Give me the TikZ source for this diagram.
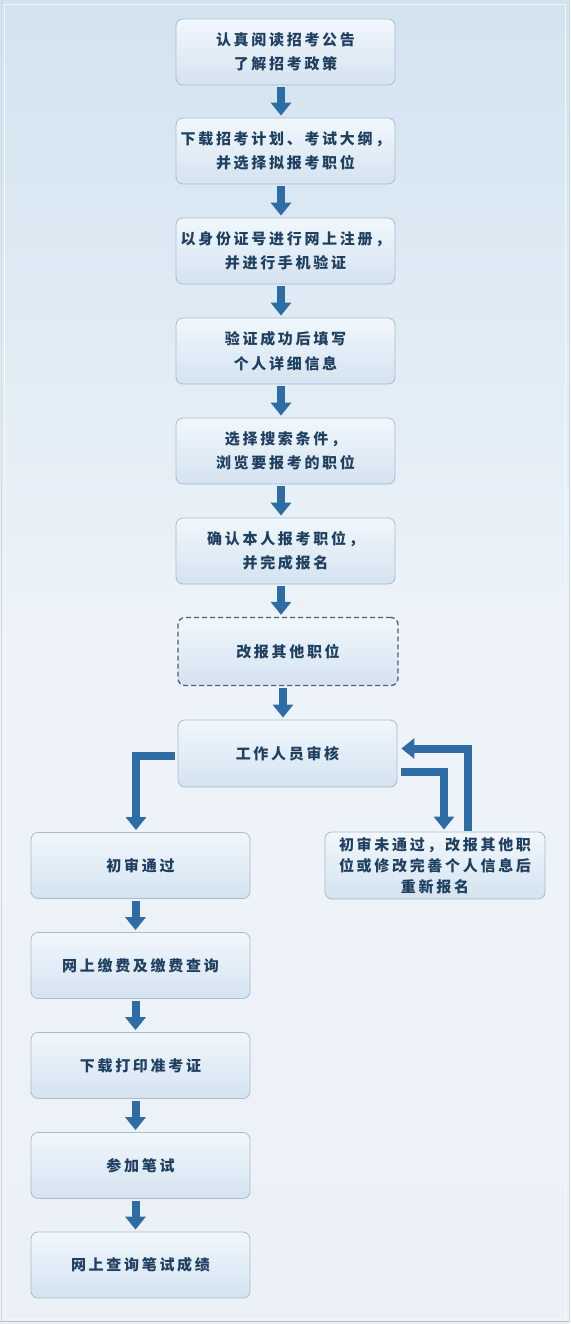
\documentclass[tikz,border=0pt]{standalone}
\usepackage{fontspec}
\newfontfamily\cjk{Noto Sans CJK SC}[LetterSpace=18]
\usetikzlibrary{arrows.meta,shadings}
\definecolor{txt}{HTML}{1F4060}
\definecolor{arr}{HTML}{2D6CA5}
\definecolor{bdr}{HTML}{A9BCCB}
\definecolor{HTML-top}{HTML}{F1F7FC}
\definecolor{HTML-bot}{HTML}{D4E3F0}
\definecolor{HTML-dash}{HTML}{4D6272}
\definecolor{bgtop}{HTML}{D2E3F0}
\definecolor{bgbot}{HTML}{ECF1F7}
\begin{document}
\begin{tikzpicture}[x=1pt,y=-1pt,
  box/.style={rounded corners=7pt, draw=bdr, line width=0.8pt,
    top color=HTML-top, bottom color=HTML-bot,
    minimum width=219pt, minimum height=66pt, inner sep=0pt,
    align=center, text=txt, font=\cjk\bfseries\fontsize{15}{24.5}\selectfont},
  dbox/.style={box, draw=HTML-dash, dash pattern=on 5pt off 3pt, line width=1.3pt},
  blk/.style={draw=arr, line width=8pt, line cap=butt, line join=miter,
    -{Triangle[width=20pt,length=13pt]}, shorten <=2pt, shorten >=2pt}
]
\useasboundingbox (0,0) rectangle (570,1324);
\shade[top color=bgtop, bottom color=bgbot, middle color=HTML-top!40!bgbot] (0,0) rectangle (570,1324);
\draw[white!70!bgtop, line width=1.2pt] (4.5,4.5) rectangle (565.5,1319.5);
\draw[HTML-dash!40!white, line width=1pt] (0,1321.5) -- (570,1321.5);
\draw[HTML-dash!25!white, line width=0.8pt] (1,0) -- (1,1322) (569,0) -- (569,1322);

\node[box] (b1) at (285.5,52) {认真阅读招考公告\\了解招考政策};
\node[box] (b2) at (285.5,151) {下载招考计划、考试大纲，\\并选择拟报考职位};
\node[box] (b3) at (285.5,251) {以身份证号进行网上注册，\\并进行手机验证};
\node[box] (b4) at (285.5,351) {验证成功后填写\\个人详细信息};
\node[box] (b5) at (285.5,451) {选择搜索条件，\\浏览要报考的职位};
\node[box] (b6) at (285.5,551) {确认本人报考职位，\\并完成报名};
\node[dbox, minimum width=220pt, minimum height=68pt] (b7) at (288,651.5) {改报其他职位};
\node[box, minimum height=67pt] (b8) at (287.5,753.5) {工作人员审核};
\node[box] (c1) at (140.5,865.5) {初审通过};
\node[box] (c2) at (140.5,965.5) {网上缴费及缴费查询};
\node[box] (c3) at (140.5,1065.5) {下载打印准考证};
\node[box] (c4) at (140.5,1165.5) {参加笔试};
\node[box] (c5) at (140.5,1265) {网上查询笔试成绩};
\node[box, minimum width=220pt, minimum height=67pt,
  font=\cjk\bfseries\fontsize{15}{21}\selectfont] (r1) at (435,865.5) {初审未通过，改报其他职\\位或修改完善个人信息后\\重新报名};

\foreach \a/\b in {b1/b2,b2/b3,b3/b4,b4/b5,b5/b6}
  \draw[blk] ([xshift=-4.5pt]\a.south) -- ([xshift=-4.5pt]\b.north);
\draw[blk] ([xshift=-4.5pt]b6.south) -- ([xshift=-7pt]b7.north);
\draw[blk] ([xshift=-5pt]b7.south) -- ([xshift=-4.5pt]b8.north);
\foreach \a/\b in {c1/c2,c2/c3,c3/c4,c4/c5}
  \draw[blk] ([xshift=-5pt]\a.south) -- ([xshift=-5pt]\b.north);

\draw[blk, shorten <=3pt] ([yshift=-2pt]b8.west) -| ([xshift=-4.5pt]c1.north);
\draw[blk, shorten <=4pt] ([yshift=-18.5pt]b8.east) -| ([xshift=9pt]r1.north);
\draw[blk, shorten <=1pt, shorten >=4pt] ([xshift=33pt]r1.north) |- ([yshift=5pt]b8.east);
\end{tikzpicture}
\end{document}
